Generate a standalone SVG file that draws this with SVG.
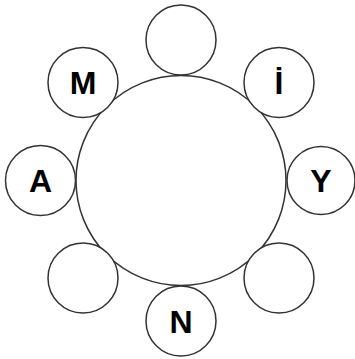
<svg xmlns="http://www.w3.org/2000/svg" width="355" height="359" viewBox="0 0 355 359">
<style>
circle{fill:#fff;stroke:#333;stroke-width:1.5}
text{font-family:"Liberation Sans",Arial,sans-serif;font-weight:bold;font-size:32px;text-anchor:middle;fill:#000}
</style>
<rect width="355" height="359" fill="#fff"/>
<g id="connectors"></g>
<g id="table"><circle cx="181" cy="180.5" r="105"/></g>
<g id="seat-top"><circle cx="181" cy="40" r="35"/></g>
<g id="seat-M"><circle cx="83" cy="82.5" r="35"/><text x="83" y="94">M</text></g>
<g id="seat-I"><circle cx="279" cy="82.5" r="35"/><text x="279" y="94">İ</text></g>
<g id="seat-A"><circle cx="40.5" cy="180.5" r="35"/><text x="40.5" y="192">A</text></g>
<g id="seat-Y"><circle cx="321" cy="180.5" r="34"/><text x="321" y="192">Y</text></g>
<g id="seat-bl"><circle cx="83" cy="278" r="35"/></g>
<g id="seat-br"><circle cx="279" cy="278" r="35"/></g>
<g id="seat-N"><circle cx="181" cy="321" r="35"/><text x="181" y="333">N</text></g>
</svg>
